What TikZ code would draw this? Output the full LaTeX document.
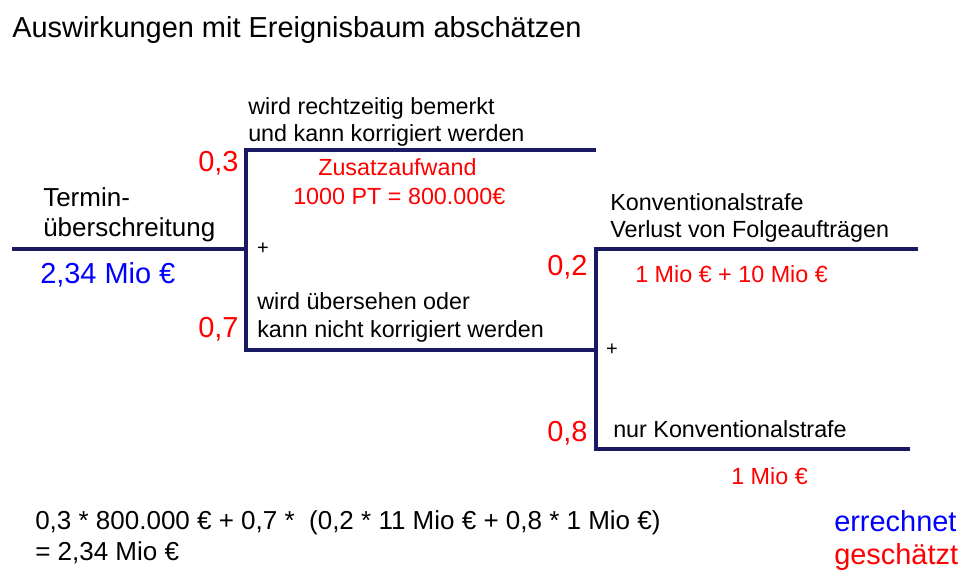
\documentclass[tikz,border=0pt]{standalone}
\usepackage{fontspec}
\setmainfont{Liberation Sans}
\definecolor{navy}{RGB}{25,25,100}
\definecolor{myred}{RGB}{255,0,0}
\definecolor{myblue}{RGB}{0,0,255}
\tikzset{
  tree/.style={draw=navy, line width=2.3pt, line cap=butt, line join=miter},
  lbl/.style={anchor=base west, inner sep=0pt, align=left, font=\fontsize{17.5}{20.3}\selectfont},
  mid/.style={anchor=base west, inner sep=0pt, align=left, font=\fontsize{19.5}{22.5}\selectfont},
  big/.style={anchor=base west, inner sep=0pt, align=left, font=\fontsize{21.7}{24}\selectfont},
  plus/.style={inner sep=0pt, font=\fontsize{15}{17}\selectfont},
}
\begin{document}
\begin{tikzpicture}[x=0.75pt,y=-0.75pt]
\useasboundingbox (0,0) rectangle (965,577);
% coordinates of the tree
\coordinate (r0) at (12,249);
\coordinate (f1) at (246,249);
\coordinate (f1t) at (246,150);
\coordinate (f1b) at (246,350);
\coordinate (e1) at (596,150);
\coordinate (f2) at (596,350);
\coordinate (f2t) at (596,249);
\coordinate (f2b) at (596,449);
\coordinate (e2) at (918,249);
\coordinate (e3) at (910,449);
% lines
\draw[tree] (r0) -- (f1);
\draw[tree] (e1) -- (f1t) -- (f1b) -- (f2);
\draw[tree] (e2) -- (f2t) -- (f2b) -- (e3);
% texts
\node[big] (title) at (12,38) {Auswirkungen mit Ereignisbaum abschätzen};
\node[lbl] (a1) at (248,115) {wird rechtzeitig bemerkt};
\node[lbl] (a2) at (248,142) {und kann korrigiert werden};
\node[big, text=myred] (p03) at (198,172) {0,3};
\node[lbl, text=myred] (z1) at (318,176) {Zusatzaufwand};
\node[lbl, text=myred] (z2) at (293,205) {1000 PT = 800.000€};
\node[mid] (t1) at (43,207) {Termin-};
\node[mid] (t2) at (43,237) {überschreitung};
\node[plus] (pl1) at (263,249) {+};
\node[big, text=myblue] (res) at (40,284) {2,34 Mio €};
\node[lbl] (b1) at (257,310) {wird übersehen oder};
\node[lbl] (b2) at (257,338) {kann nicht korrigiert werden};
\node[big, text=myred] (p07) at (198,338) {0,7};
\node[lbl] (k1) at (610,211) {Konventionalstrafe};
\node[lbl] (k2) at (610,238) {Verlust von Folgeaufträgen};
\node[big, text=myred] (p02) at (547,276) {0,2};
\node[lbl, text=myred] (m1) at (635,283) {1 Mio € + 10 Mio €};
\node[plus] (pl2) at (612,350) {+};
\node[big, text=myred] (p08) at (547,442) {0,8};
\node[lbl] (n1) at (613,438) {nur Konventionalstrafe};
\node[lbl, text=myred] (m2) at (731,485) {1 Mio €};
\node[mid] (f1l) at (35,530) {0,3 * 800.000 € + 0,7 *\ \ (0,2 * 11 Mio € + 0,8 * 1 Mio €)};
\node[mid] (f2l) at (35,561) {= 2,34 Mio €};
\node[big, text=myblue] (err) at (834,532) {errechnet};
\node[big, text=myred] (ges) at (834,565) {geschätzt};
\end{tikzpicture}
\end{document}
